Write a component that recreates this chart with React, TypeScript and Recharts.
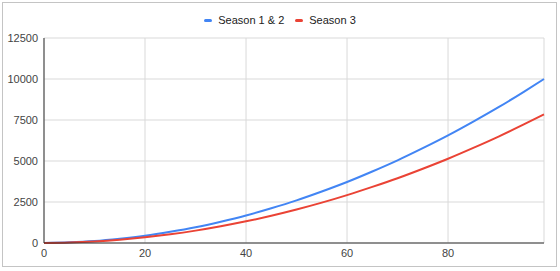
import { CartesianGrid, Line, LineChart, XAxis, YAxis } from "recharts";

const episodes = [0, 5, 10, 15, 20, 25, 30, 35, 40, 45, 50, 55, 60, 65, 70, 75, 80, 85, 90, 95, 99];
const season12 = [0, 40, 120, 260, 440, 680, 960, 1300, 1680, 2120, 2600, 3140, 3720, 4360, 5040, 5780, 6560, 7400, 8280, 9220, 10000];
const season3 = [0, 30, 95, 200, 345, 530, 755, 1020, 1320, 1660, 2040, 2460, 2920, 3420, 3950, 4530, 5140, 5800, 6490, 7230, 7840];

const xTicks = [0, 20, 40, 60, 80];
const yTicks = [0, 2500, 5000, 7500, 10000, 12500];

const seriesNames = ["Season 1 & 2", "Season 3"];
const seriesColors = ["#4285f4", "#ea4335"];

const data = episodes.map((ep, i) => ({
  ep,
  s12: season12[i],
  s3: season3[i],
}));

const font = "Arial, 'Liberation Sans', sans-serif";
const tickStyle = { fill: "#444", stroke: "none", fontSize: 11, fontFamily: font };

function ChartLegend() {
  return (
    <div
      style={{
        position: "absolute",
        left: 0,
        top: 13,
        width: 560,
        display: "flex",
        justifyContent: "center",
        alignItems: "center",
        gap: 11,
        fontFamily: font,
        fontSize: 11,
        color: "#222",
        height: 14,
      }}
    >
      {seriesNames.map((name, i) => (
        <span key={name} style={{ display: "flex", alignItems: "center" }}>
          <span
            style={{
              display: "inline-block",
              width: 8,
              height: 3,
              borderRadius: 2,
              background: seriesColors[i],
              marginRight: 6,
            }}
          />
          {name}
        </span>
      ))}
    </div>
  );
}

export default function App() {
  return (
    <div
      style={{
        position: "absolute",
        left: 0,
        top: 0,
        width: 560,
        height: 271,
        background: "#fff",
        overflow: "hidden",
      }}
    >
      <div
        style={{
          position: "absolute",
          left: 2,
          top: 2,
          width: 555,
          height: 265,
          border: "1px solid #c4c4c4",
          boxSizing: "border-box",
        }}
      />
      <LineChart
        width={560}
        height={271}
        data={data}
        margin={{ top: 38, right: 16, bottom: 0, left: 0 }}
        style={{ position: "absolute", left: 0, top: 0 }}
      >
        <CartesianGrid stroke="#d9d9d9" />
        <XAxis
          type="number"
          dataKey="ep"
          domain={[0, 99]}
          ticks={xTicks}
          height={28}
          tickLine={false}
          axisLine={{ stroke: "#333" }}
          tick={tickStyle}
          tickSize={4}
        />
        <YAxis
          domain={[0, 12500]}
          ticks={yTicks}
          width={44}
          tickLine={false}
          axisLine={{ stroke: "#333" }}
          tick={tickStyle}
          tickSize={4}
        />
        <Line
          type="monotone"
          dataKey="s12"
          name={seriesNames[0]}
          stroke={seriesColors[0]}
          strokeWidth={2}
          dot={false}
          isAnimationActive={false}
        />
        <Line
          type="monotone"
          dataKey="s3"
          name={seriesNames[1]}
          stroke={seriesColors[1]}
          strokeWidth={2}
          dot={false}
          isAnimationActive={false}
        />
      </LineChart>
      <ChartLegend />
    </div>
  );
}
